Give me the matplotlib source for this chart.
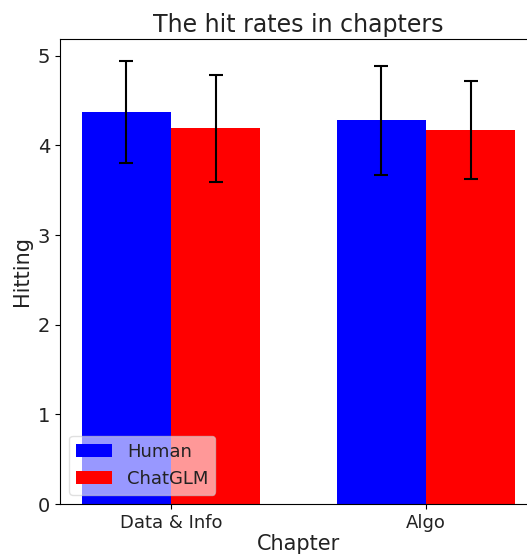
import numpy as np
import matplotlib
matplotlib.use("Agg")
import matplotlib.pyplot as plt

chapters = ["Data & Info", "Algo"]
human_mean = [4.37, 4.28]
human_std = [0.57, 0.61]
chatglm_mean = [4.19, 4.17]
chatglm_std = [0.60, 0.55]

x = np.arange(len(chapters))
width = 0.35

plt.rcParams["text.color"] = "#222222"
plt.rcParams["xtick.labelcolor"] = "#222222"
plt.rcParams["ytick.labelcolor"] = "#222222"
plt.rcParams["axes.labelcolor"] = "#222222"

fig = plt.figure(figsize=(5.27, 5.6), dpi=100)
# axes runs slightly past the right edge, as in the cropped original
ax = fig.add_axes([60 / 527, 56 / 560, 477 / 527, 465 / 560])

ax.bar(x - width / 2, human_mean, width, yerr=human_std, capsize=5,
       color="blue", label="Human", error_kw={"elinewidth": 1.5, "capthick": 1.5})
ax.bar(x + width / 2, chatglm_mean, width, yerr=chatglm_std, capsize=5,
       color="red", label="ChatGLM", error_kw={"elinewidth": 1.5, "capthick": 1.5})

ax.set_xticks(x)
ax.set_xticklabels(chapters, fontsize=13)
ax.tick_params(axis="y", labelsize=14)
ax.set_xlabel("Chapter", fontsize=15, labelpad=2)
ax.set_ylabel("Hitting", fontsize=15)
ax.set_title("The hit rates in chapters", fontsize=17, pad=5)
ax.legend(loc="lower left", fontsize=13, framealpha=0.6)

fig.savefig("out.png", dpi=100)
